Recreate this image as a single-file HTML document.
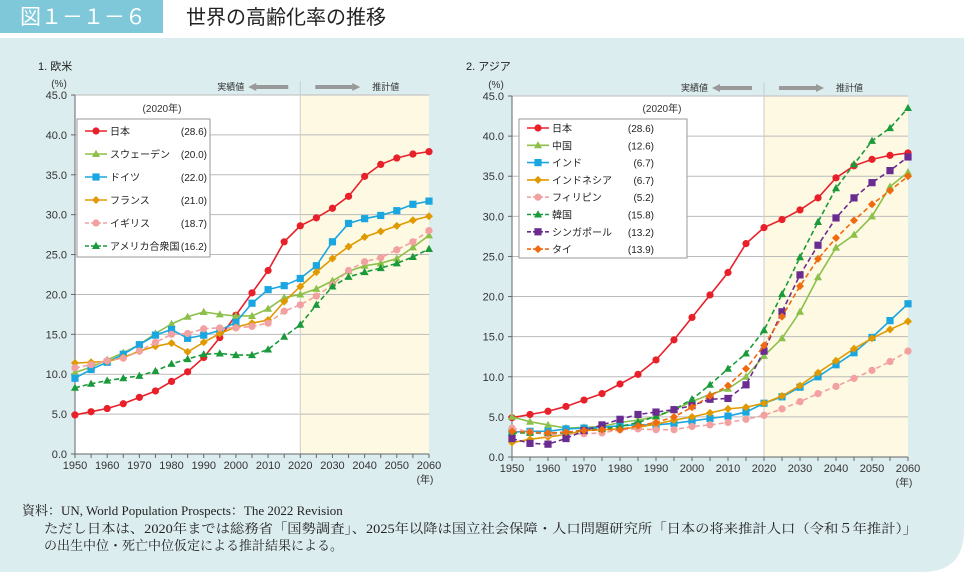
<!DOCTYPE html>
<html><head><meta charset="utf-8">
<style>
html,body{margin:0;padding:0;background:#fff;}
body{width:964px;height:572px;overflow:hidden;position:relative;font-family:"Liberation Sans","Noto Sans CJK JP",sans-serif;}
svg text{font-family:"Liberation Sans","Noto Sans CJK JP",sans-serif;}
svg .serif text{font-family:"Liberation Serif","Noto Serif CJK SC",serif;}
</style></head>
<body>
<svg id="c" width="964" height="572" viewBox="0 0 964 572" xmlns="http://www.w3.org/2000/svg">
  <path d="M0 38 H964 V530 Q964 572 922 572 H0 Z" fill="#dcedf0"/>
  <rect x="0" y="0" width="163" height="33" fill="#7ec8da"/>
  <text x="20" y="24" font-size="21" fill="#fff">図１－１－６</text>
  <text x="186" y="24" font-size="20" fill="#222">世界の高齢化率の推移</text>
  <g id="left"></g>
  <g id="right"></g>
  <g class="serif" font-size="13" fill="#222">
    <text x="22" y="515">資料：UN,  World Population Prospects：The 2022 Revision</text>
    <text x="44" y="533" textLength="873" lengthAdjust="spacingAndGlyphs">ただし日本は、2020年までは総務省「国勢調査」、2025年以降は国立社会保障・人口問題研究所「日本の将来推計人口（令和５年推計）」</text>
    <text x="44" y="550">の出生中位・死亡中位仮定による推計結果による。</text>
  </g>
</svg>
<script>
const years=[1950,1955,1960,1965,1970,1975,1980,1985,1990,1995,2000,2005,2010,2015,2020,2025,2030,2035,2040,2045,2050,2055,2060];
const yTicks=[0,5,10,15,20,25,30,35,40,45];
const xTicks=[1950,1960,1970,1980,1990,2000,2010,2020,2030,2040,2050,2060];
const japan=[4.9,5.3,5.7,6.3,7.1,7.9,9.1,10.3,12.1,14.6,17.4,20.2,23.0,26.6,28.6,29.6,30.8,32.3,34.8,36.3,37.1,37.6,37.9];
const sweden=[10.2,10.9,11.8,12.7,13.7,15.1,16.3,17.2,17.8,17.5,17.3,17.3,18.2,19.6,20.0,20.7,21.7,22.9,23.6,23.9,24.5,25.9,27.4];
const germany=[9.5,10.6,11.5,12.5,13.7,14.9,15.6,14.5,14.9,15.5,16.5,18.9,20.6,21.1,22.0,23.6,26.6,28.9,29.5,29.9,30.5,31.3,31.7];
const france=[11.4,11.5,11.6,12.1,12.9,13.5,13.9,12.8,14.0,15.1,15.9,16.4,16.8,19.1,21.0,22.8,24.5,26.0,27.2,27.9,28.6,29.3,29.8];
const uk=[10.8,11.2,11.7,12.0,12.9,14.0,15.0,15.1,15.7,15.8,15.8,16.0,16.4,17.9,18.7,19.8,21.2,23.0,24.1,24.6,25.6,26.6,28.0];
const usa=[8.3,8.8,9.2,9.5,9.8,10.4,11.3,11.9,12.5,12.6,12.4,12.4,13.1,14.7,16.2,18.7,21.0,22.2,22.8,23.3,23.9,24.7,25.7];
const china=[5.0,4.4,4.0,3.6,3.7,3.8,4.3,4.6,5.0,5.9,6.9,7.8,8.5,10.0,12.6,14.8,18.1,22.4,26.1,27.7,30.0,33.7,35.5];
const india=[3.1,3.2,3.2,3.5,3.6,3.7,3.9,4.0,4.0,4.2,4.5,4.8,5.1,5.6,6.7,7.5,8.7,10.0,11.5,13.0,14.9,17.0,19.1];
const indonesia=[1.8,2.2,2.5,2.8,3.3,3.4,3.5,3.7,4.1,4.6,5.0,5.5,6.0,6.2,6.7,7.6,8.9,10.5,12.0,13.5,14.8,15.9,16.9];
const philippines=[3.6,3.1,2.8,2.8,2.9,3.0,3.4,3.5,3.4,3.4,3.8,4.0,4.3,4.7,5.2,6.0,6.9,7.9,8.8,9.8,10.8,11.9,13.2];
const korea=[3.0,3.0,3.0,3.0,3.4,3.5,3.8,4.3,5.1,5.9,7.2,9.0,11.0,12.9,15.8,20.3,24.9,29.3,33.5,36.5,39.4,41.0,43.5];
const singapore=[2.3,1.7,1.6,2.3,3.3,4.0,4.7,5.3,5.6,5.9,6.4,7.2,7.3,9.0,13.2,18.1,22.7,26.4,29.8,32.3,34.2,35.7,37.4];
const thai=[3.2,3.1,3.0,3.1,3.3,3.4,3.4,3.9,4.3,5.0,6.2,7.6,8.9,11.0,13.9,17.5,21.3,24.7,27.3,29.5,31.5,33.2,35.0];
const leftNames=['日本','スウェーデン','ドイツ','フランス','イギリス','アメリカ合衆国'];
const leftVals=['(28.6)','(20.0)','(22.0)','(21.0)','(18.7)','(16.2)'];
const rightNames=['日本','中国','インド','インドネシア','フィリピン','韓国','シンガポール','タイ'];
const rightVals=['(28.6)','(12.6)','(6.7)','(6.7)','(5.2)','(15.8)','(13.2)','(13.9)'];

const NS='http://www.w3.org/2000/svg';
function mk(p,t,a){const e=document.createElementNS(NS,t);for(const k in a)e.setAttribute(k,a[k]);p.appendChild(e);return e;}
function marker(g,type,x,y,c){
  if(type==='c')return mk(g,'circle',{cx:x,cy:y,r:3.6,fill:c});
  if(type==='s')return mk(g,'rect',{x:x-3.6,y:y-3.6,width:7.2,height:7.2,fill:c});
  if(type==='t')return mk(g,'polygon',{points:`${x},${y-4.2} ${x+4},${y+3} ${x-4},${y+3}`,fill:c});
  if(type==='d')return mk(g,'polygon',{points:`${x},${y-4} ${x+4},${y} ${x},${y+4} ${x-4},${y}`,fill:c});
}
function chart(g,cfg){
  const {x0,x1,yT,yB}=cfg;
  const X=v=>x0+(v-1950)/(2060-1950)*(x1-x0);
  const Y=v=>yB-v/45*(yB-yT);
  let e;
  e=mk(g,'text',{x:cfg.tx,y:70,'font-size':11,fill:'#222'});e.textContent=cfg.title;
  
  
  e=mk(g,'rect',{x:x0,y:yT,width:X(2020)-x0,height:yB-yT,fill:'#fff'});
  
  
  e=mk(g,'rect',{x:X(2020),y:yT,width:x1-X(2020),height:yB-yT,fill:'#fdf9e2'});
  
  
  yTicks.forEach(v=>{
    if(v>0){e=mk(g,'line',{x1:x0,x2:x1,y1:Y(v),y2:Y(v),stroke:'#bbb','stroke-width':1});
    
    }
    e=mk(g,'text',{x:x0-8,y:Y(v)+4,'font-size':11,fill:'#333','text-anchor':'end'});e.textContent=v.toFixed(1);
    
    
    e=mk(g,'line',{x1:x0-4,x2:x0,y1:Y(v),y2:Y(v),stroke:'#666'});
  });
  e=mk(g,'line',{x1:X(2020),x2:X(2020),y1:yT-14,y2:yB,stroke:'#ccc','stroke-width':1});
  
  
  mk(g,'line',{x1:x0,x2:x0,y1:yT,y2:yB,stroke:'#666'});
  mk(g,'line',{x1:x0,x2:x1,y1:yB,y2:yB,stroke:'#666'});
  years.forEach(v=>mk(g,'line',{x1:X(v),x2:X(v),y1:yB,y2:yB+4,stroke:'#666'}));
  xTicks.forEach(v=>{e=mk(g,'text',{x:X(v),y:yB+15,'font-size':11,fill:'#333','text-anchor':'middle'});e.textContent=v;
    
    });
  e=mk(g,'text',{x:x1-4,y:yB+29,'font-size':10,fill:'#333','text-anchor':'middle'});e.textContent='(年)';
  
  
  e=mk(g,'text',{x:x0-16,y:yT-8,'font-size':10,fill:'#333','text-anchor':'middle'});e.textContent='(%)';
  
  
  const xd=X(2020);
  e=mk(g,'text',{x:xd-56,y:yT-5,'font-size':9,fill:'#333','text-anchor':'end'});e.textContent='実績値';
  
  
  mk(g,'polygon',{points:`${xd-52},${yT-8} ${xd-44},${yT-12} ${xd-44},${yT-10} ${xd-12},${yT-10} ${xd-12},${yT-6} ${xd-44},${yT-6} ${xd-44},${yT-4}`,fill:'#999'});
  mk(g,'polygon',{points:`${xd+60},${yT-8} ${xd+52},${yT-12} ${xd+52},${yT-10} ${xd+15},${yT-10} ${xd+15},${yT-6} ${xd+52},${yT-6} ${xd+52},${yT-4}`,fill:'#999'});
  e=mk(g,'text',{x:xd+72,y:yT-5,'font-size':9,fill:'#333'});e.textContent='推計値';
  
  
  cfg.series.forEach(s=>{
    const sg=mk(g,'g',{});
    
    
    const pts=s.data.map((v,i)=>X(years[i])+','+Y(v)).join(' ');
    mk(sg,'polyline',{points:pts,fill:'none',stroke:s.c,'stroke-width':1.6,'stroke-dasharray':s.dash?'5,3':'none'});
    s.data.forEach((v,i)=>{const m=marker(sg,s.m,X(years[i]),Y(v),s.c);
      
      });
  });
  const L=cfg.leg;
  e=mk(g,'text',{x:L.hx,y:L.y-7,'font-size':10,fill:'#333','text-anchor':'middle'});e.textContent='(2020年)';
  
  
  e=mk(g,'rect',{x:L.x,y:L.y,width:L.w,height:L.h,fill:'#fff',stroke:'#999','stroke-width':1});
  
  
  cfg.series.forEach((s,i)=>{
    const yy=L.y+L.first+i*L.step;
    const lg=mk(g,'g',{});
    
    
    mk(lg,'line',{x1:L.x+8,x2:L.x+30,y1:yy,y2:yy,stroke:s.c,'stroke-width':1.6,'stroke-dasharray':s.dash?'4,2':'none'});
    marker(lg,s.m,L.x+19,yy,s.c);
    let t=mk(lg,'text',{x:L.x+33,y:yy+4,'font-size':10,fill:'#222'});t.textContent=cfg.names[i];
    t=mk(lg,'text',{x:L.vx,y:yy+4,'font-size':10,fill:'#222','text-anchor':'end'});t.textContent=cfg.vals[i];
  });
}
chart(document.getElementById('left'),{x0:75,x1:429,yT:95,yB:454,tx:38,title:'1. 欧米',
  names:leftNames,vals:leftVals,
  leg:{x:77,y:119,w:133,h:138,first:12,step:23,hx:162,vx:207},
  series:[{id:'japan',data:japan,c:'#e8202a',m:'c'},{id:'sweden',data:sweden,c:'#8cc04a',m:'t'},
  {id:'germany',data:germany,c:'#1aa6e0',m:'s'},{id:'france',data:france,c:'#e09a00',m:'d'},
  {id:'uk',data:uk,c:'#f2a0a0',m:'c',dash:1},{id:'usa',data:usa,c:'#1a9a3a',m:'t',dash:1}]});
chart(document.getElementById('right'),{x0:512,x1:908,yT:96,yB:457,tx:466,title:'2. アジア',
  names:rightNames,vals:rightVals,
  leg:{x:519,y:119,w:168,h:139,first:9,step:17.3,hx:662,vx:654},
  series:[{id:'japan-asia',data:japan,c:'#e8202a',m:'c'},{id:'china',data:china,c:'#8cc04a',m:'t'},
  {id:'india',data:india,c:'#1aa6e0',m:'s'},{id:'indonesia',data:indonesia,c:'#e09a00',m:'d'},
  {id:'philippines',data:philippines,c:'#f2a0a0',m:'c',dash:1},{id:'korea',data:korea,c:'#1a9a3a',m:'t',dash:1},
  {id:'singapore',data:singapore,c:'#6a2c91',m:'s',dash:1},{id:'thailand',data:thai,c:'#f06a10',m:'d',dash:1}]});
</script>
</body></html>
